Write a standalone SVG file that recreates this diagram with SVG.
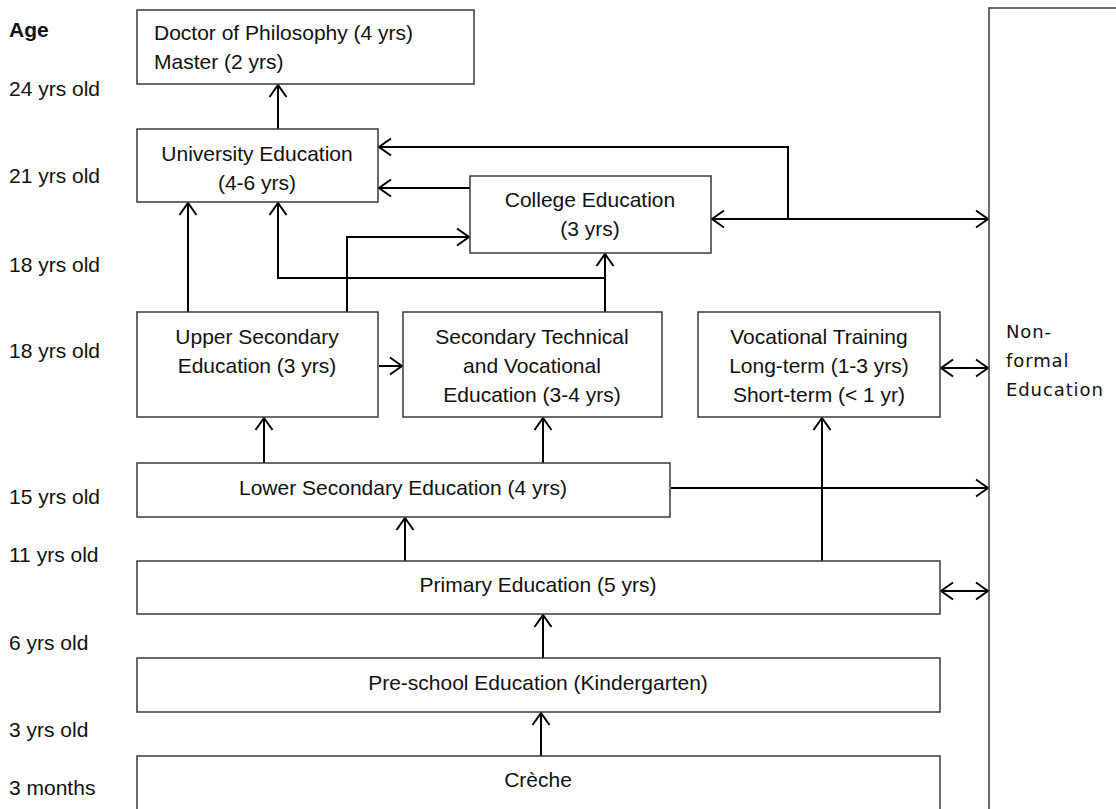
<svg xmlns="http://www.w3.org/2000/svg" width="1116" height="809" viewBox="0 0 1116 809">
<style>
.box{fill:#fff;stroke:#3a3a3a;stroke-width:1.5}
.t{font-family:"Liberation Sans",Arial,sans-serif;font-size:21px;fill:#111}
.c{text-anchor:middle}
.nf{font-family:"DejaVu Sans",Verdana,sans-serif;font-size:18px;letter-spacing:0.9px;fill:#111}
.ln{fill:none;stroke:#000;stroke-width:2}
</style>
<defs>
<marker id="ah" markerUnits="userSpaceOnUse" viewBox="0 0 16 20" markerWidth="16" markerHeight="20" refX="14" refY="10" orient="auto-start-reverse">
<path d="M2,1.5 L14,10 L2,18.5" fill="none" stroke="#000" stroke-width="2"/>
</marker>
</defs>
<rect width="1116" height="809" fill="#fff"/>
<g id="ages" class="t">
<text x="9" y="37" font-weight="bold">Age</text>
<text x="9" y="96">24 yrs old</text>
<text x="9" y="183">21 yrs old</text>
<text x="9" y="272">18 yrs old</text>
<text x="9" y="358">18 yrs old</text>
<text x="9" y="504">15 yrs old</text>
<text x="9" y="562">11 yrs old</text>
<text x="9" y="650">6 yrs old</text>
<text x="9" y="737">3 yrs old</text>
<text x="9" y="795">3 months</text>
</g>
<g id="connectors" class="ln">
<path d="M278,129 V85" marker-end="url(#ah)"/>
<path d="M788,219 V147 H379" marker-end="url(#ah)"/>
<path d="M470,188 H379" marker-end="url(#ah)"/>
<path d="M712,219 H988" marker-start="url(#ah)" marker-end="url(#ah)"/>
<path d="M188,312 V203" marker-end="url(#ah)"/>
<path d="M605,312 V254" marker-end="url(#ah)"/>
<path d="M605,278 H278 V203" marker-end="url(#ah)"/>
<path d="M347,312 V237 H469" marker-end="url(#ah)"/>
<path d="M379,366 H402" marker-end="url(#ah)"/>
<path d="M941,368 H988" marker-start="url(#ah)" marker-end="url(#ah)"/>
<path d="M264,463 V418" marker-end="url(#ah)"/>
<path d="M543,463 V418" marker-end="url(#ah)"/>
<path d="M671,488 H988" marker-end="url(#ah)"/>
<path d="M405,561 V518" marker-end="url(#ah)"/>
<path d="M822,561 V418" marker-end="url(#ah)"/>
<path d="M941,591 H988" marker-start="url(#ah)" marker-end="url(#ah)"/>
<path d="M543,658 V615" marker-end="url(#ah)"/>
<path d="M541,756 V713" marker-end="url(#ah)"/>
</g>
<g id="nonformal">
<rect class="box" x="989" y="8" width="140" height="820"/>
<text class="nf" x="1006" y="338">Non-</text>
<text class="nf" x="1006" y="367">formal</text>
<text class="nf" x="1006" y="396">Education</text>
</g>
<g id="doctor">
<rect class="box" x="137" y="10" width="337" height="74"/>
<text class="t" x="154" y="40">Doctor of Philosophy (4 yrs)</text>
<text class="t" x="154" y="69">Master (2 yrs)</text>
</g>
<g id="university">
<rect class="box" x="137" y="129" width="241" height="73"/>
<text class="t c" x="257" y="161">University Education</text>
<text class="t c" x="257" y="190">(4-6 yrs)</text>
</g>
<g id="college">
<rect class="box" x="470" y="176" width="241" height="77"/>
<text class="t c" x="590" y="207">College Education</text>
<text class="t c" x="590" y="236">(3 yrs)</text>
</g>
<g id="upper">
<rect class="box" x="137" y="312" width="241" height="105"/>
<text class="t c" x="257" y="344">Upper Secondary</text>
<text class="t c" x="257" y="373">Education (3 yrs)</text>
</g>
<g id="stve">
<rect class="box" x="403" y="312" width="259" height="105"/>
<text class="t c" x="532" y="344">Secondary Technical</text>
<text class="t c" x="532" y="373">and Vocational</text>
<text class="t c" x="532" y="402">Education (3-4 yrs)</text>
</g>
<g id="vocational">
<rect class="box" x="698" y="312" width="242" height="105"/>
<text class="t c" x="819" y="344">Vocational Training</text>
<text class="t c" x="819" y="373">Long-term (1-3 yrs)</text>
<text class="t c" x="819" y="402">Short-term (&lt; 1 yr)</text>
</g>
<g id="lower">
<rect class="box" x="137" y="463" width="533" height="54"/>
<text class="t c" x="403" y="495">Lower Secondary Education (4 yrs)</text>
</g>
<g id="primary">
<rect class="box" x="137" y="561" width="803" height="53"/>
<text class="t c" x="538" y="592">Primary Education (5 yrs)</text>
</g>
<g id="preschool">
<rect class="box" x="137" y="658" width="803" height="54"/>
<text class="t c" x="538" y="690">Pre-school Education (Kindergarten)</text>
</g>
<g id="creche">
<rect class="box" x="137" y="756" width="803" height="70"/>
<text class="t c" x="538" y="787">Crèche</text>
</g>
</svg>
